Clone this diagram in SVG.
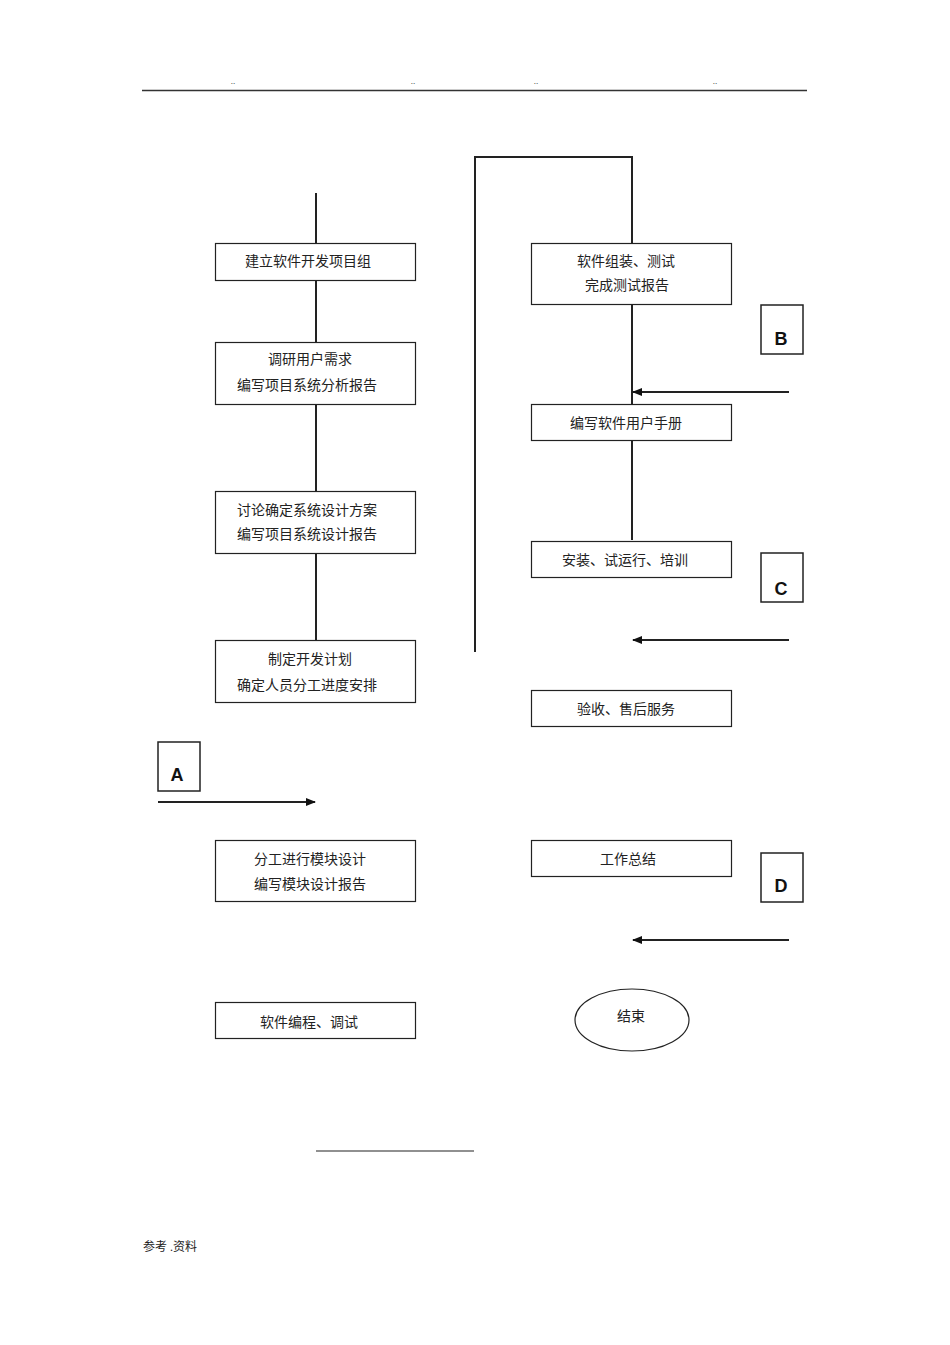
<svg xmlns="http://www.w3.org/2000/svg" width="950" height="1345" viewBox="0 0 950 1345">
<style>
.b{fill:#fff;stroke:#222;stroke-width:1.2}
.t{font-family:"Liberation Serif","Noto Sans CJK SC",serif;font-size:14px;fill:#222;text-anchor:middle}
.l{stroke:#222;stroke-width:2;fill:none}
.k{font-family:"Liberation Sans",Arial,sans-serif;font-size:18px;font-weight:bold;fill:#111;text-anchor:middle}
.s{fill:#fff;stroke:#222;stroke-width:1.5}
</style>
<defs><marker id="a" markerWidth="10" markerHeight="8" refX="9" refY="4" orient="auto" markerUnits="userSpaceOnUse"><path d="M0,0L10,4L0,8Z" fill="#111"/></marker></defs>
<rect width="950" height="1345" fill="#fff"/>
<line x1="142" y1="90.5" x2="807" y2="90.5" stroke="#333" stroke-width="1.5"/>
<g class="t" style="font-size:9px"><text x="233" y="84">..</text><text x="413" y="84">..</text><text x="536" y="84">..</text><text x="715" y="84">..</text></g>
<g id="connectors">
<path class="l" d="M316,193V640"/>
<path class="l" d="M475,652V157H632V540"/>
<line class="l" x1="789" y1="392" x2="633" y2="392" marker-end="url(#a)"/>
<line class="l" x1="789" y1="640" x2="633" y2="640" marker-end="url(#a)"/>
<line class="l" x1="789" y1="940" x2="633" y2="940" marker-end="url(#a)"/>
<line class="l" x1="158" y1="802" x2="315" y2="802" marker-end="url(#a)"/>
<line x1="316" y1="1151" x2="474" y2="1151" stroke="#222" stroke-width="1.2"/>
</g>
<g id="n1"><rect class="b" x="215.5" y="243.5" width="200" height="37"/><text class="t" x="308" y="266">建立软件开发项目组</text></g>
<g id="n2"><rect class="b" x="215.5" y="342.5" width="200" height="62"/><text class="t" x="310" y="364">调研用户需求</text><text class="t" x="307" y="390">编写项目系统分析报告</text></g>
<g id="n3"><rect class="b" x="215.5" y="491.5" width="200" height="62"/><text class="t" x="307" y="515">讨论确定系统设计方案</text><text class="t" x="307" y="539">编写项目系统设计报告</text></g>
<g id="n4"><rect class="b" x="215.5" y="640.5" width="200" height="62"/><text class="t" x="310" y="664">制定开发计划</text><text class="t" x="307" y="690">确定人员分工进度安排</text></g>
<g id="n5"><rect class="b" x="215.5" y="840.5" width="200" height="61"/><text class="t" x="310" y="864">分工进行模块设计</text><text class="t" x="310" y="889">编写模块设计报告</text></g>
<g id="n6"><rect class="b" x="215.5" y="1002.5" width="200" height="36"/><text class="t" x="309" y="1027">软件编程、调试</text></g>
<g id="n7"><rect class="b" x="531.5" y="243.5" width="200" height="61"/><text class="t" x="626" y="266">软件组装、测试</text><text class="t" x="627" y="290">完成测试报告</text></g>
<g id="n8"><rect class="b" x="531.5" y="404.5" width="200" height="36"/><text class="t" x="626" y="428">编写软件用户手册</text></g>
<g id="n9"><rect class="b" x="531.5" y="541.5" width="200" height="36"/><text class="t" x="625" y="565">安装、试运行、培训</text></g>
<g id="n10"><rect class="b" x="531.5" y="690.5" width="200" height="36"/><text class="t" x="626" y="714">验收、售后服务</text></g>
<g id="n11"><rect class="b" x="531.5" y="840.5" width="200" height="36"/><text class="t" x="628" y="864">工作总结</text></g>
<g id="n12"><ellipse class="b" cx="632" cy="1020" rx="57" ry="31"/><text class="t" x="631" y="1021">结束</text></g>
<g id="A"><rect class="s" x="158" y="742" width="42" height="49"/><text class="k" x="177" y="781">A</text></g>
<g id="B"><rect class="s" x="761" y="305" width="42" height="49"/><text class="k" x="781" y="345">B</text></g>
<g id="C"><rect class="s" x="761" y="553" width="42" height="49"/><text class="k" x="781" y="595">C</text></g>
<g id="D"><rect class="s" x="761" y="853" width="42" height="49"/><text class="k" x="781" y="892">D</text></g>
<text x="143" y="1251" style="font-family:'Liberation Serif','Noto Sans CJK SC',serif;font-size:12px" fill="#222">参考 .资料</text>
</svg>
